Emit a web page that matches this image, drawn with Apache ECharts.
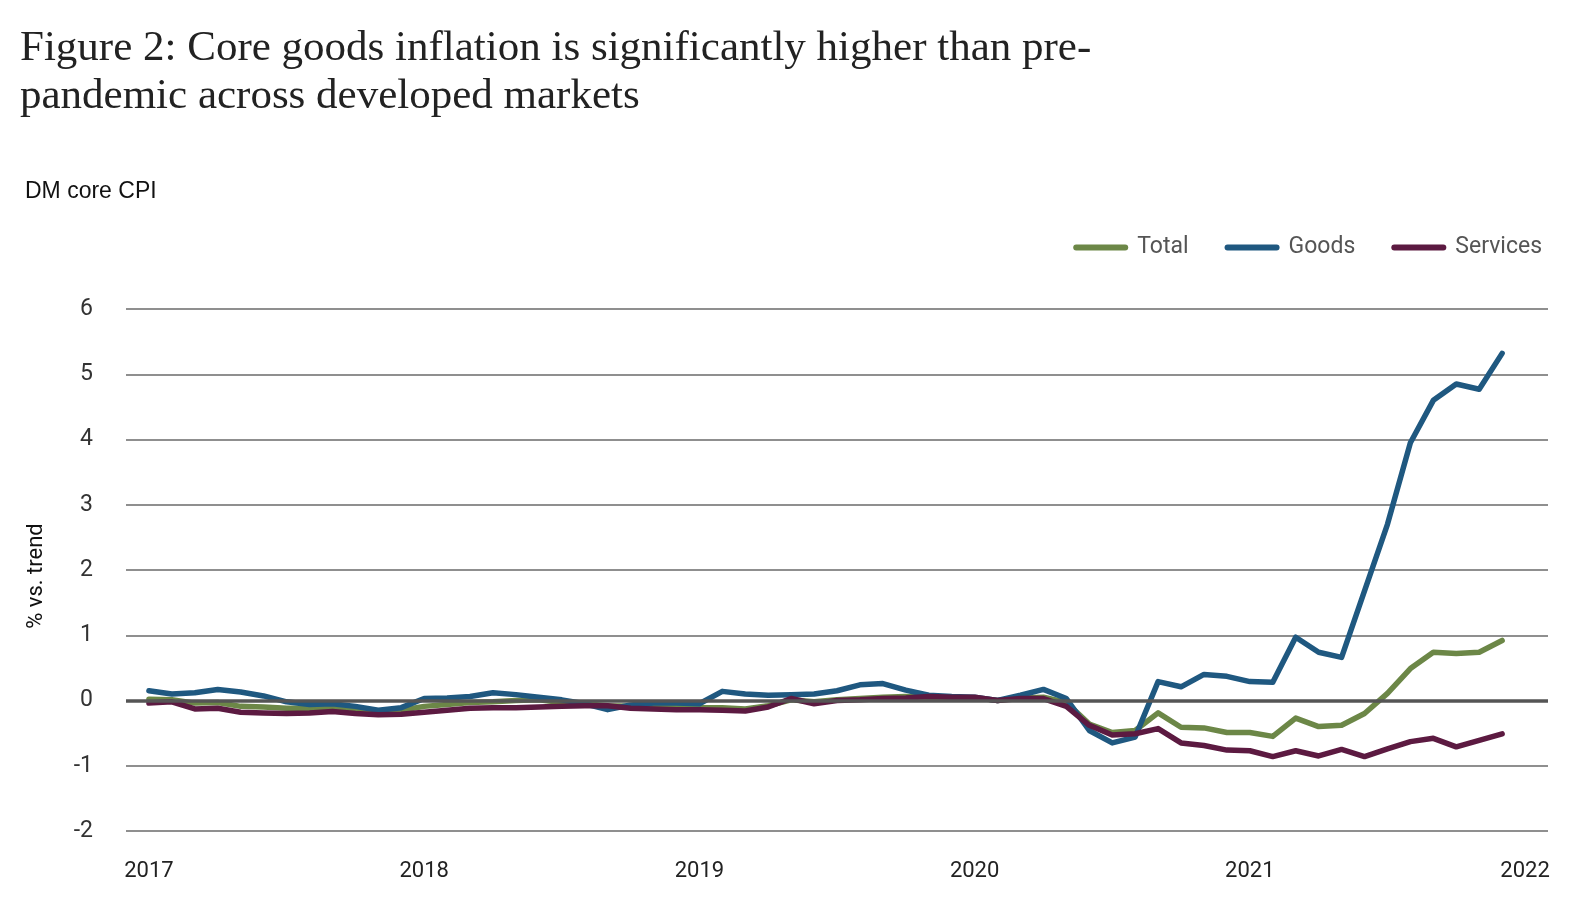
<!DOCTYPE html>
<html><head><meta charset="utf-8">
<script src="https://cdn.jsdelivr.net/npm/echarts@6/dist/echarts.min.js"></script>
<style>html,body{margin:0;padding:0;background:#fff}#c{width:1584px;height:919px}</style>
</head><body><div id="c"></div>
<script>
// Monthly observations, Jan 2017 .. Dec 2021 (index 0 = Jan 2017)
const yearLabels = ['2017', '2018', '2019', '2020', '2021', '2022'];
const seriesNames = ['Total', 'Goods', 'Services'];
const total = [
  0.02, 0.01, -0.04, -0.03, -0.09, -0.10, -0.12, -0.12, -0.11, -0.14, -0.17, -0.15,
  -0.09, -0.06, -0.03, -0.02, 0.00, 0.01, -0.03, -0.05, -0.08, -0.09, -0.08, -0.10,
  -0.11, -0.11, -0.13, -0.08, 0.01, -0.02, 0.01, 0.03, 0.05, 0.06, 0.05, 0.04,
  0.04, 0.00, 0.04, 0.05, -0.03, -0.36, -0.49, -0.46, -0.19, -0.41, -0.42, -0.49,
  -0.49, -0.55, -0.27, -0.40, -0.38, -0.20, 0.11, 0.49, 0.74, 0.72, 0.74, 0.92
];
const goods = [
  0.15, 0.10, 0.12, 0.17, 0.13, 0.07, -0.02, -0.06, -0.05, -0.09, -0.15, -0.11,
  0.03, 0.04, 0.06, 0.12, 0.09, 0.05, 0.01, -0.05, -0.14, -0.07, -0.04, -0.04,
  -0.05, 0.14, 0.10, 0.08, 0.09, 0.10, 0.15, 0.24, 0.26, 0.16, 0.08, 0.06,
  0.05, 0.00, 0.08, 0.17, 0.03, -0.46, -0.65, -0.56, 0.29, 0.21, 0.40, 0.37,
  0.29, 0.28, 0.97, 0.74, 0.66, 1.68, 2.70, 3.95, 4.60, 4.85, 4.77, 5.32
];
const services = [
  -0.04, -0.02, -0.13, -0.12, -0.18, -0.19, -0.20, -0.19, -0.17, -0.20, -0.22, -0.21,
  -0.18, -0.15, -0.12, -0.11, -0.11, -0.10, -0.09, -0.08, -0.08, -0.12, -0.13, -0.14,
  -0.14, -0.15, -0.16, -0.10, 0.03, -0.05, 0.00, 0.01, 0.03, 0.04, 0.06, 0.05,
  0.05, 0.00, 0.03, 0.03, -0.09, -0.38, -0.53, -0.51, -0.43, -0.65, -0.69, -0.76,
  -0.77, -0.86, -0.77, -0.85, -0.75, -0.86, -0.74, -0.63, -0.58, -0.71, -0.61, -0.51
];

const colors = { Total: '#6c8747', Goods: '#1f5880', Services: '#5c1a41' };
const capsule = 'path://M3,0 L52,0 A3,3 0 0 1 52,6 L3,6 A3,3 0 0 1 3,0 Z';
const toPts = arr => arr.map((v, i) => [i, v]);

const chart = echarts.init(document.getElementById('c'), null, { renderer: 'canvas' });

function lineSeries(name, arr, z) {
  return {
    name: name, type: 'line', data: toPts(arr), showSymbol: false, symbol: 'none',
    z: z, lineStyle: { color: colors[name], width: 5.5, cap: 'round', join: 'round' },
    itemStyle: { color: colors[name] }, animation: false
  };
}

const option = {
  animation: false,
  backgroundColor: '#ffffff',
  grid: { left: 126, right: 36, top: 309, bottom: 88 },
  legend: {
    data: seriesNames, right: 37, top: 231, icon: capsule,
    itemWidth: 55, itemHeight: 6, itemGap: 36,
    textStyle: { fontFamily: 'Roboto', fontSize: 23, color: '#555', padding: [0, 0, 0, 4] }
  },
  xAxis: {
    type: 'value', min: -1, max: 61, interval: 1,
    axisLine: { show: false }, axisTick: { show: false }, splitLine: { show: false },
    axisLabel: {
      margin: 29, fontFamily: 'Roboto', fontSize: 22, color: '#222',
      formatter: v => (v >= 0 && v % 12 === 0) ? yearLabels[v / 12] : ''
    }
  },
  yAxis: {
    type: 'value', min: -2, max: 6, interval: 1,
    axisLine: { show: false }, axisTick: { show: false },
    splitLine: { lineStyle: { color: '#6a6a6a', width: 1.6 } },
    axisLabel: { margin: 33, fontFamily: 'Roboto', fontSize: 23, color: '#333' }
  },
  graphic: [
    { type: 'text', left: 20, top: 25, style: {
        text: 'Figure 2: Core goods inflation is significantly higher than pre-\npandemic across developed markets',
        font: '43px "Liberation Serif"', fill: '#222', lineHeight: 48 } },
    { type: 'text', left: 25, top: 180, style: {
        text: 'DM core CPI', font: '23px "Liberation Sans"', fill: '#111' } },
    { type: 'text', x: 36, y: 576, rotation: Math.PI / 2, style: {
        text: '% vs. trend', font: '22px Roboto', fill: '#111', align: 'center', verticalAlign: 'middle' } }
  ],
  series: [
    { name: 'zero', type: 'line', data: [], silent: true, z: 1,
      markLine: { symbol: 'none', silent: true, animation: false, label: { show: false },
        lineStyle: { color: '#555', width: 3.5, type: 'solid' }, data: [{ yAxis: 0 }] } },
    lineSeries('Total', total, 2),
    lineSeries('Goods', goods, 3),
    lineSeries('Services', services, 4)
  ]
};
chart.setOption(option);
</script>
</body></html>
